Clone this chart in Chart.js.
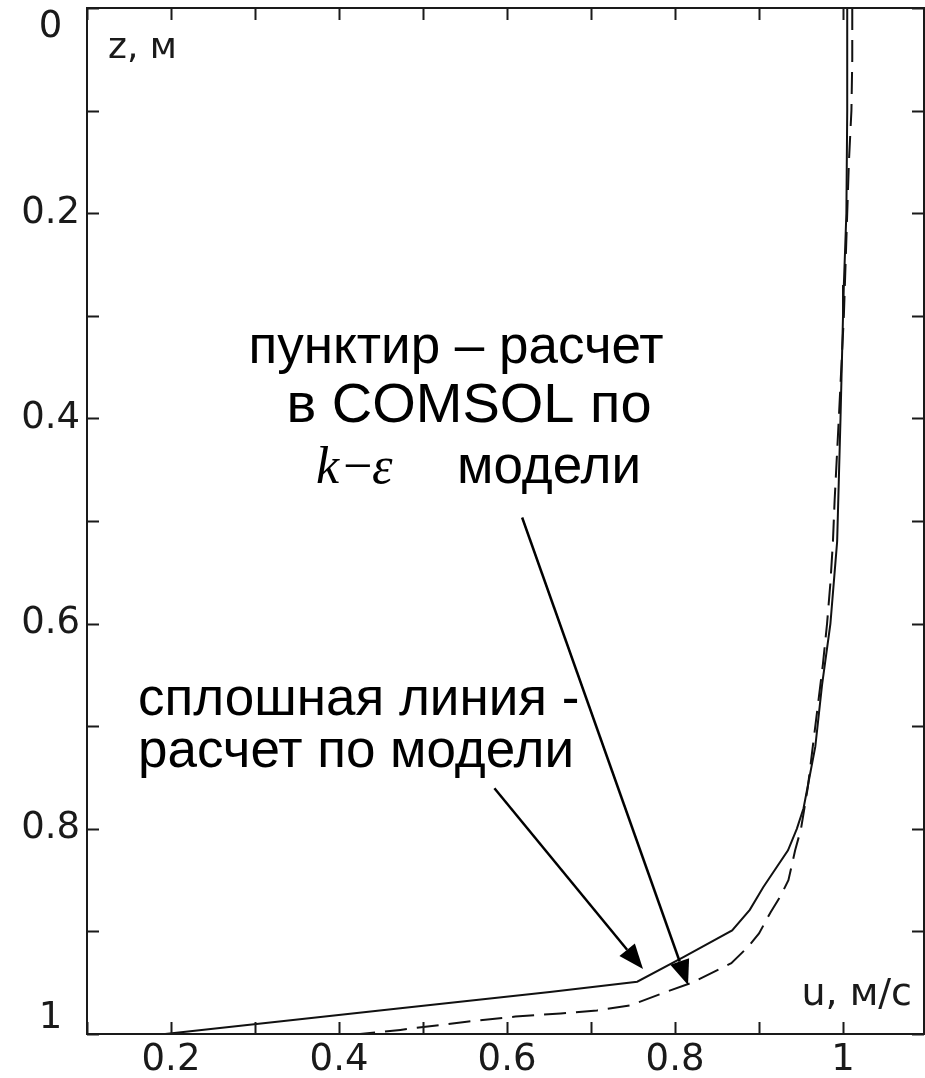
<!DOCTYPE html>
<html>
<head>
<meta charset="utf-8">
<script src="https://cdn.jsdelivr.net/npm/chart.js@4/dist/chart.umd.min.js"></script>
<style>
  html, body { margin: 0; padding: 0; background: #fff; }
  #wrap { width: 925px; height: 1078px; }
  canvas { display: block; }
</style>
</head>
<body>
<div id="wrap"><canvas id="c" width="925" height="1078"></canvas></div>
<script>
// Velocity profile u(z): own model (solid) and COMSOL k-epsilon run (dashed)
const modelU = [1.005, 1.005, 1.004, 1.001, 1.000, 0.997, 0.995, 0.993, 0.989, 0.985, 0.980, 0.975, 0.971,
                0.967, 0.960, 0.953, 0.945, 0.9345, 0.905, 0.889, 0.868, 0.810, 0.755, 0.651, 0.473, 0.193];
const modelZ = [0.00, 0.10, 0.20, 0.27, 0.30, 0.40, 0.46, 0.52, 0.56, 0.60, 0.63, 0.66, 0.69,
                0.72, 0.75, 0.78, 0.80, 0.821, 0.857, 0.879, 0.899, 0.925, 0.949, 0.959, 0.975, 1.00];

const comsolU = [1.011, 1.011, 1.010, 1.007, 1.005, 1.001, 0.995, 0.990, 0.988, 0.985, 0.981, 0.976, 0.970,
                 0.964, 0.958, 0.950, 0.943, 0.935, 0.926, 0.914, 0.900, 0.887, 0.867, 0.820, 0.786, 0.747,
                 0.707, 0.664, 0.610, 0.552, 0.473, 0.425];
const comsolZ = [0.00, 0.05, 0.10, 0.15, 0.20, 0.30, 0.40, 0.48, 0.52, 0.56, 0.60, 0.64, 0.68,
                 0.72, 0.76, 0.80, 0.821, 0.85, 0.865, 0.881, 0.902, 0.915, 0.931, 0.950, 0.960, 0.972,
                 0.977, 0.980, 0.983, 0.988, 0.996, 1.00];

// Axis ticks: marks every 0.1, numbers every 0.2
const xTickValues = [0.1, 0.2, 0.3, 0.4, 0.5, 0.6, 0.7, 0.8, 0.9, 1.0];
const xLabelValues = [0.2, 0.4, 0.6, 0.8, 1.0];
const xTickLabels = ['0.2', '0.4', '0.6', '0.8', '1'];
const yTickValues = [0, 0.1, 0.2, 0.3, 0.4, 0.5, 0.6, 0.7, 0.8, 0.9, 1.0];
const yLabelValues = [0, 0.2, 0.4, 0.6, 0.8, 1.0];
const yTickLabels = ['0', '0.2', '0.4', '0.6', '0.8', '1'];

// Arrow anchors (u, z): from the caption towards each curve
const arrowComsol = { from: [0.618, 0.4966], to: [0.8155, 0.9523] };
const arrowModel  = { from: [0.585, 0.7605], to: [0.7619, 0.9367] };

const toPoints = (us, zs) => us.map((u, i) => ({ x: u, y: zs[i] }));
const labelFor = (values, labels) => (v) => {
  const i = values.findIndex(t => Math.abs(t - v) < 1e-9);
  return i >= 0 ? labels[i] : '';
};

const ink = '#1a1a1a';
const axisFamily = '"DejaVu Sans", Verdana, sans-serif';
const axisFont = { family: axisFamily, size: 37 };

function arrow(ctx, x1, y1, x2, y2) {
  const a = Math.atan2(y2 - y1, x2 - x1);
  const len = 25, half = 10;
  const bx = x2 - len * Math.cos(a), by = y2 - len * Math.sin(a);
  ctx.beginPath();
  ctx.moveTo(x1, y1);
  ctx.lineTo(bx, by);
  ctx.stroke();
  ctx.beginPath();
  ctx.moveTo(x2, y2);
  ctx.lineTo(bx + half * Math.sin(a), by - half * Math.cos(a));
  ctx.lineTo(bx - half * Math.sin(a), by + half * Math.cos(a));
  ctx.closePath();
  ctx.fill();
}

const overlay = {
  id: 'overlay',
  beforeDraw(chart) {
    // keep the end labels of the depth axis inside the frame
    const items = chart.scales.y.getLabelItems();
    items.forEach(it => {
      if (it.label === yTickLabels[0]) it.options.translation[1] += 19;
      if (it.label === yTickLabels[yTickLabels.length - 1]) it.options.translation[1] -= 16;
    });
  },
  afterDatasetsDraw(chart) {
    const { ctx, chartArea: a, scales: { x, y } } = chart;
    ctx.save();

    // frame
    ctx.strokeStyle = ink;
    ctx.lineWidth = 2;
    ctx.strokeRect(a.left, a.top, a.right - a.left, a.bottom - a.top);

    // inward tick marks on all four sides
    const tl = 12;
    ctx.beginPath();
    x.ticks.forEach(t => {
      const px = Math.round(x.getPixelForValue(t.value)) + 0.5;
      ctx.moveTo(px, a.bottom); ctx.lineTo(px, a.bottom - tl);
      ctx.moveTo(px, a.top); ctx.lineTo(px, a.top + tl);
    });
    y.ticks.forEach(t => {
      const py = Math.round(y.getPixelForValue(t.value)) + 0.5;
      ctx.moveTo(a.left, py); ctx.lineTo(a.left + tl, py);
      ctx.moveTo(a.right, py); ctx.lineTo(a.right - tl, py);
    });
    ctx.stroke();

    // axis names inside the frame
    ctx.fillStyle = ink;
    ctx.textBaseline = 'alphabetic';
    ctx.font = '36px ' + axisFamily;
    ctx.textAlign = 'left';
    ctx.fillText('z, м', a.left + 21, a.top + 50);
    ctx.font = '38px ' + axisFamily;
    ctx.textAlign = 'right';
    ctx.fillText('u, м/с', a.right - 12, a.bottom - 29);

    // captions
    ctx.fillStyle = '#000';
    ctx.font = '53px "Liberation Sans", Arial, sans-serif';
    ctx.textAlign = 'center';
    ctx.fillText('пунктир – расчет', 456, 363);
    ctx.textAlign = 'right';
    ctx.fillText('модели', 641, 483);
    ctx.textAlign = 'left';
    ctx.fillText('сплошная линия -', 138, 715);
    ctx.fillText('расчет по модели', 138, 767);
    ctx.font = '56px "Liberation Sans", Arial, sans-serif';
    ctx.textAlign = 'center';
    ctx.fillText('в COMSOL по', 469, 422);

    ctx.textAlign = 'left';
    ctx.font = 'italic 52px "Liberation Serif", "Times New Roman", serif';
    ctx.fillText('k', 316, 483);
    ctx.fillText('ε', 372, 483);
    ctx.font = '52px "Liberation Serif", "Times New Roman", serif';
    ctx.fillText('−', 343, 483);

    // pointers
    ctx.strokeStyle = '#000';
    ctx.fillStyle = '#000';
    ctx.lineWidth = 2.5;
    [arrowComsol, arrowModel].forEach(ar => {
      arrow(ctx,
        x.getPixelForValue(ar.from[0]), y.getPixelForValue(ar.from[1]),
        x.getPixelForValue(ar.to[0]), y.getPixelForValue(ar.to[1]));
    });

    ctx.restore();
  }
};

new Chart(document.getElementById('c'), {
  type: 'scatter',
  data: {
    datasets: [
      {
        label: 'расчет по модели',
        data: toPoints(modelU, modelZ),
        showLine: true,
        borderColor: '#111',
        borderWidth: 2,
        pointRadius: 0,
        tension: 0
      },
      {
        label: 'расчет в COMSOL по k-ε модели',
        data: toPoints(comsolU, comsolZ),
        showLine: true,
        borderColor: '#111',
        borderWidth: 2,
        borderDash: [22, 10],
        pointRadius: 0,
        tension: 0
      }
    ]
  },
  options: {
    responsive: false,
    animation: false,
    devicePixelRatio: 1,
    layout: { padding: { top: 8, right: 1, left: 0, bottom: 0 } },
    plugins: { legend: { display: false }, tooltip: { enabled: false } },
    scales: {
      x: {
        type: 'linear',
        min: 0.1,
        max: 1.0964,
        grid: { display: false, drawTicks: false },
        border: { display: false },
        afterBuildTicks: s => { s.ticks = xTickValues.map(v => ({ value: v })); },
        afterFit: s => { s.height = 44; s.paddingLeft = 0; s.paddingRight = 0; },
        ticks: {
          autoSkip: false,
          maxRotation: 0,
          padding: 4,
          color: ink,
          font: axisFont,
          callback: labelFor(xLabelValues, xTickLabels)
        }
      },
      y: {
        type: 'linear',
        reverse: true,
        min: 0,
        max: 1,
        grid: { display: false, drawTicks: false },
        border: { display: false },
        afterBuildTicks: s => { s.ticks = yTickValues.map(v => ({ value: v })); },
        afterFit: s => { s.width = 87; s.paddingTop = 0; s.paddingBottom = 0; },
        ticks: {
          autoSkip: false,
          padding: 7,
          crossAlign: 'center',
          color: ink,
          font: axisFont,
          callback: labelFor(yLabelValues, yTickLabels)
        }
      }
    }
  },
  plugins: [overlay]
});
</script>
</body>
</html>
